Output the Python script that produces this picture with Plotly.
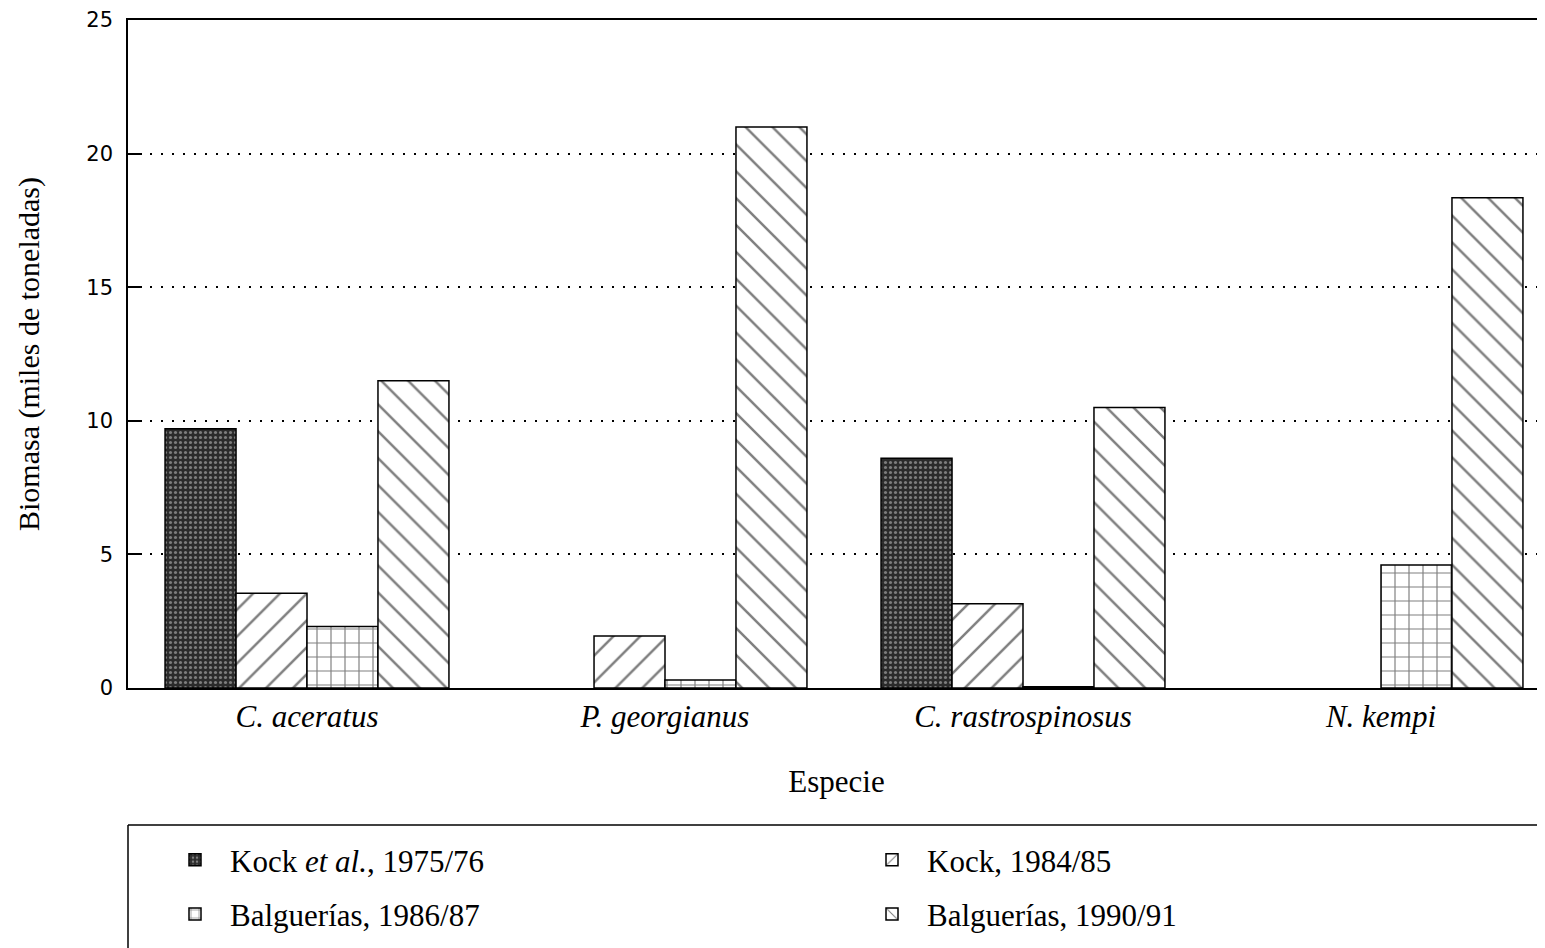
import plotly.graph_objects as go

# biomass (thousand tonnes) by species and survey
species = ["C. aceratus", "P. georgianus", "C. rastrospinosus", "N. kempi"]
kock_7576 = [9.7, None, 8.6, None]
kock_8485 = [3.55, 1.95, 3.15, None]
balg_8687 = [2.3, 0.3, 0.05, 4.6]
balg_9091 = [11.5, 21.0, 10.5, 18.35]

# page body has an 8px margin, so the figure is drawn 8px in from the corner
OFF = 8
W, H = 1545 - OFF, 948 - OFF
L, T = 128 - OFF, 20 - OFF
B = H - (688 - OFF)
serif = "Liberation Serif"


def py(y_px):
    # reference pixel row -> paper y
    return (H - B - (y_px - OFF)) / (H - B - T)


def px(x_px):
    return (x_px - OFF - L) / (W - L)


fig = go.Figure()

series = [
    ("Kock <i>et al.</i>, 1975/76", kock_7576,
     dict(shape=".", bgcolor="#2b2b2b", fgcolor="#d0d0d0", size=5, solidity=0.3), "legend"),
    ("Kock, 1984/85", kock_8485,
     dict(shape="/", bgcolor="white", fgcolor="black", size=19, solidity=0.13), "legend2"),
    ("Balguerías, 1986/87", balg_8687,
     dict(shape="+", bgcolor="white", fgcolor="black", size=14, solidity=0.16), "legend"),
    ("Balguerías, 1990/91", balg_9091,
     dict(shape="\\", bgcolor="white", fgcolor="black", size=19, solidity=0.13), "legend2"),
]

for i, (name, vals, pat, leg) in enumerate(series):
    fig.add_trace(go.Bar(
        x=species, y=vals, name=name,
        marker=dict(color="white", pattern=pat, line=dict(color="black", width=1.5)),
        legend=leg, legendgroup=str(i),
    ))

fig.update_layout(
    width=W, height=H,
    margin=dict(l=L, r=0, t=T, b=B),
    paper_bgcolor="white", plot_bgcolor="white",
    barmode="group", bargap=0.207, bargroupgap=0.0,
    font=dict(family=serif, color="black", size=24),
    showlegend=True,
    legend=dict(x=px(160), y=py(833), xanchor="left", yanchor="top",
                tracegroupgap=11, itemwidth=60, font=dict(size=31),
                bgcolor="rgba(0,0,0,0)"),
    legend2=dict(x=px(857), y=py(833), xanchor="left", yanchor="top",
                 tracegroupgap=11, itemwidth=60, font=dict(size=31),
                 bgcolor="rgba(0,0,0,0)"),
)

fig.update_xaxes(
    range=[-0.5, -0.5 + (W - L) / 358],
    showline=True, linecolor="black", linewidth=1.5, mirror=True,
    ticks="", showgrid=False,
    tickfont=dict(family=serif, size=31, style="italic"),
    ticklabelstandoff=0,
    title=dict(text="Especie", font=dict(family=serif, size=31), standoff=37),
)

fig.update_yaxes(
    range=[0, 25], dtick=5,
    showline=True, linecolor="black", linewidth=1.5,
    ticks="inside", ticklen=14, tickwidth=1.5, tickcolor="black",
    showgrid=True, gridcolor="black", gridwidth=1.5, griddash="2px,9px",
    zeroline=False,
    tickfont=dict(family="DejaVu Sans", size=21),
    ticklabelstandoff=9, ticklabeloverflow="allow",
    title=dict(text="Biomasa (miles de toneladas)", font=dict(family=serif, size=30), standoff=38),
)

# legend frame (runs off the right and bottom edges, as in the scan)
fig.add_shape(type="line", xref="paper", yref="paper",
              x0=0, x1=1, y0=py(825), y1=py(825), line=dict(color="black", width=1.5))
fig.add_shape(type="line", xref="paper", yref="paper",
              x0=0, x1=0, y0=py(825), y1=py(960), line=dict(color="black", width=1.5))

fig.write_html("out.html")
